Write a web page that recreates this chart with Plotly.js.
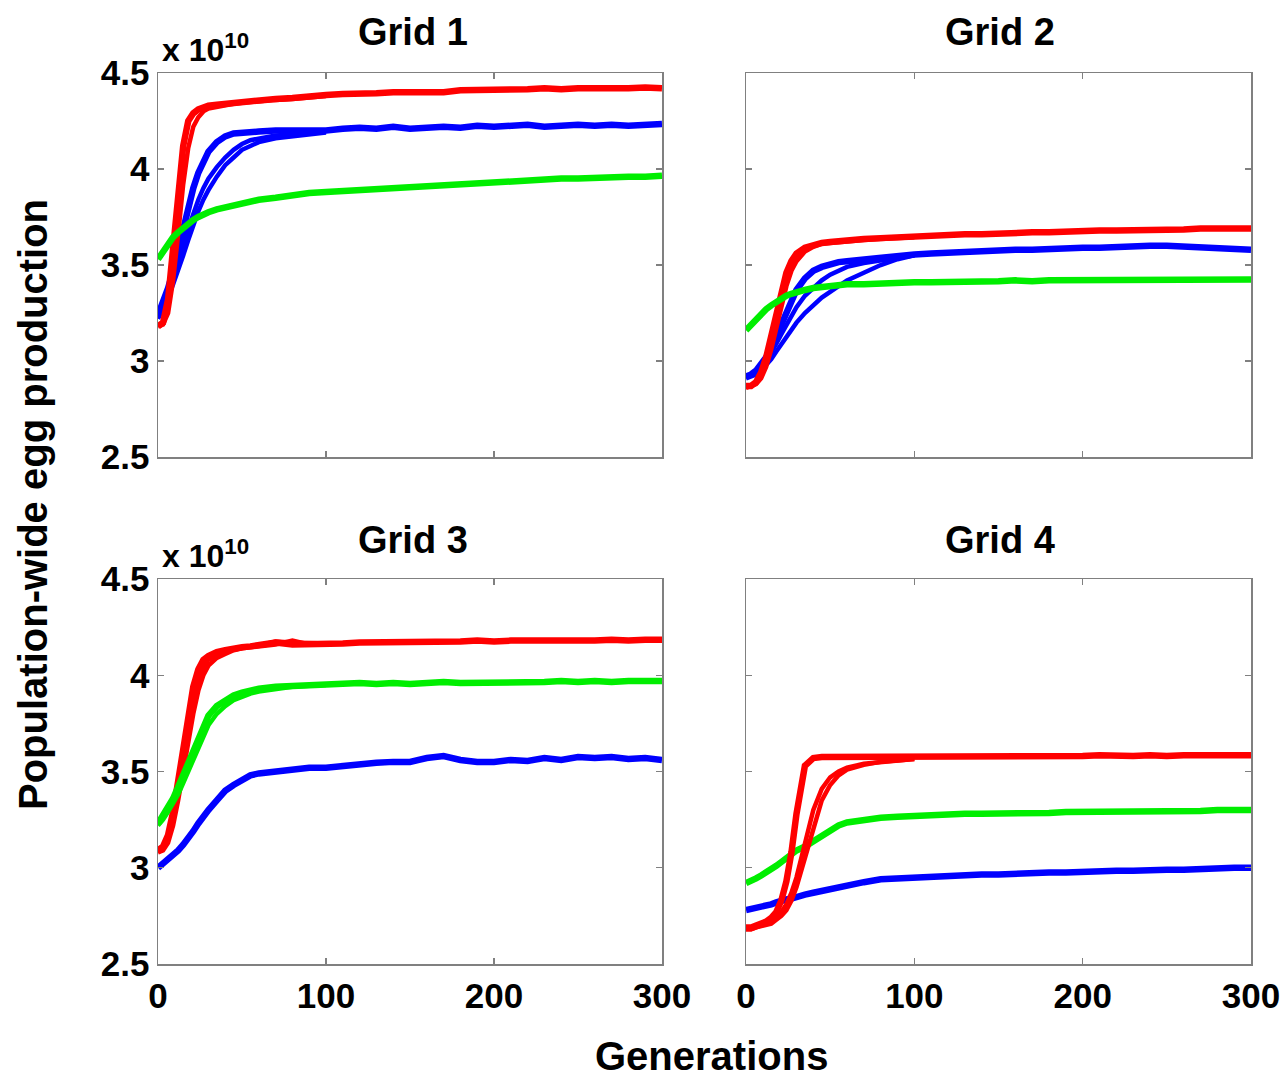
<!DOCTYPE html>
<html>
<head>
<meta charset="utf-8">
<script src="https://cdn.plot.ly/plotly-3.0.1.min.js"></script>
<style>html,body{margin:0;padding:0;background:#fff;}#chart{width:1284px;height:1079px;}</style>
</head>
<body>
<div id="chart"></div>
<script>
// Generations (x) shared by the full-length runs, and by the early segments of the diverging runs
const gens = [0,3,6,9,12,15,18,21,24,27,30,35,40,45,50,55,60,70,80,90,100,110,120,130,140,150,160,170,180,190,200,210,220,230,240,250,260,270,280,290,300];
const gensEarly = [0,3,6,9,12,15,18,21,24,27,30,35,40,45,50,55,60,70,80,90,100];

// Values in units of 1e10
// Grid 1
const g1Red   = [3.18,3.20,3.32,3.58,3.88,4.12,4.25,4.29,4.31,4.32,4.33,4.335,4.34,4.345,4.35,4.355,4.36,4.365,4.37,4.38,4.385,4.39,4.39,4.395,4.40,4.40,4.405,4.40,4.41,4.41,4.415,4.41,4.415,4.42,4.415,4.42,4.42,4.415,4.42,4.425,4.42];
const g1RedB  = [3.18,3.19,3.25,3.42,3.66,3.92,4.11,4.22,4.27,4.30,4.315,4.325,4.33,4.34,4.345,4.35,4.355,4.36,4.365,4.375,4.38];
const g1Blue  = [3.24,3.30,3.38,3.47,3.58,3.70,3.80,3.90,3.98,4.04,4.09,4.14,4.17,4.185,4.19,4.195,4.195,4.20,4.20,4.205,4.20,4.21,4.215,4.21,4.22,4.21,4.215,4.22,4.215,4.225,4.22,4.225,4.23,4.22,4.225,4.23,4.225,4.23,4.225,4.23,4.235];
const g1BlueB = [3.22,3.27,3.33,3.40,3.47,3.55,3.63,3.71,3.78,3.84,3.89,3.96,4.02,4.06,4.10,4.12,4.14,4.16,4.17,4.18,4.19];
const g1BlueC = [3.23,3.28,3.35,3.43,3.51,3.60,3.69,3.77,3.84,3.90,3.95,4.01,4.06,4.10,4.13,4.15,4.16,4.175,4.18,4.19,4.195];
const g1Green = [3.53,3.57,3.61,3.645,3.67,3.695,3.715,3.735,3.75,3.765,3.775,3.79,3.80,3.815,3.825,3.83,3.84,3.85,3.865,3.875,3.88,3.885,3.89,3.90,3.905,3.91,3.915,3.92,3.925,3.93,3.935,3.94,3.94,3.945,3.95,3.95,3.955,3.955,3.96,3.96,3.965];

// Grid 2
const g2Red   = [2.87,2.87,2.89,2.94,3.02,3.13,3.25,3.37,3.46,3.52,3.56,3.59,3.605,3.615,3.62,3.625,3.63,3.635,3.64,3.645,3.65,3.655,3.655,3.66,3.66,3.665,3.665,3.67,3.67,3.675,3.675,3.68,3.68,3.68,3.685,3.685,3.685,3.69,3.69,3.69,3.69];
const g2RedB  = [2.86,2.87,2.88,2.91,2.97,3.06,3.17,3.29,3.39,3.47,3.52,3.57,3.595,3.61,3.615,3.62,3.625,3.63,3.635,3.64,3.645];
const g2Blue  = [2.92,2.93,2.95,2.98,3.02,3.07,3.13,3.19,3.26,3.32,3.37,3.43,3.47,3.49,3.505,3.515,3.52,3.53,3.54,3.55,3.555,3.56,3.565,3.57,3.57,3.575,3.58,3.58,3.585,3.585,3.59,3.59,3.595,3.60,3.60,3.60,3.595,3.59,3.59,3.585,3.58];
const g2BlueB = [2.91,2.92,2.93,2.95,2.98,3.01,3.05,3.09,3.13,3.17,3.20,3.25,3.29,3.33,3.36,3.39,3.42,3.46,3.50,3.53,3.55];
const g2BlueC = [2.92,2.925,2.94,2.965,3.00,3.04,3.09,3.14,3.19,3.24,3.28,3.34,3.38,3.42,3.45,3.47,3.49,3.51,3.525,3.54,3.55];
const g2Green = [3.16,3.19,3.22,3.25,3.27,3.29,3.31,3.325,3.34,3.35,3.36,3.37,3.38,3.385,3.39,3.395,3.40,3.40,3.405,3.405,3.41,3.41,3.41,3.415,3.415,3.415,3.42,3.415,3.42,3.42,3.42,3.425,3.42,3.425,3.42,3.425,3.425,3.42,3.425,3.425,3.425];

// Grid 3
const g3Red    = [3.09,3.11,3.17,3.29,3.45,3.62,3.80,3.94,4.03,4.08,4.10,4.12,4.13,4.14,4.145,4.15,4.155,4.17,4.16,4.16,4.165,4.165,4.17,4.17,4.175,4.17,4.175,4.175,4.175,4.18,4.175,4.18,4.18,4.175,4.18,4.18,4.18,4.185,4.18,4.185,4.185];
const g3RedB   = [3.08,3.09,3.13,3.22,3.35,3.50,3.66,3.80,3.92,4.00,4.05,4.09,4.11,4.13,4.14,4.145,4.15,4.16,4.18,4.16,4.16];
const g3RedC   = [3.08,3.10,3.15,3.25,3.40,3.56,3.73,3.87,3.97,4.04,4.08,4.11,4.125,4.135,4.14,4.15,4.155,4.175,4.17,4.165,4.165];
const g3Green  = [3.23,3.27,3.31,3.36,3.42,3.48,3.55,3.62,3.68,3.74,3.79,3.84,3.87,3.895,3.91,3.92,3.93,3.94,3.945,3.95,3.955,3.955,3.96,3.955,3.96,3.955,3.96,3.965,3.96,3.96,3.965,3.96,3.965,3.965,3.97,3.965,3.97,3.965,3.97,3.97,3.97];
const g3GreenB = [3.22,3.25,3.29,3.33,3.38,3.44,3.50,3.57,3.63,3.69,3.74,3.80,3.84,3.87,3.89,3.905,3.915,3.93,3.94,3.945,3.95];
const g3Blue   = [3.00,3.02,3.04,3.06,3.09,3.12,3.15,3.19,3.23,3.27,3.30,3.35,3.40,3.43,3.46,3.48,3.49,3.50,3.51,3.52,3.52,3.53,3.54,3.545,3.55,3.55,3.57,3.58,3.56,3.55,3.55,3.56,3.555,3.57,3.56,3.575,3.57,3.575,3.565,3.57,3.56];

// Grid 4
const g4Red   = [2.69,2.69,2.70,2.71,2.72,2.74,2.77,2.83,2.93,3.08,3.28,3.53,3.57,3.575,3.575,3.575,3.575,3.575,3.575,3.575,3.58,3.575,3.58,3.58,3.575,3.58,3.58,3.58,3.575,3.58,3.58,3.585,3.58,3.58,3.585,3.58,3.585,3.585,3.58,3.585,3.585];
const g4RedB  = [2.68,2.68,2.69,2.70,2.71,2.72,2.74,2.77,2.81,2.87,2.95,3.12,3.30,3.41,3.47,3.50,3.52,3.54,3.55,3.56,3.565];
const g4RedC  = [2.68,2.68,2.69,2.695,2.70,2.71,2.73,2.75,2.78,2.83,2.90,3.05,3.22,3.35,3.43,3.48,3.51,3.535,3.55,3.555,3.565];
const g4Green = [2.92,2.93,2.945,2.96,2.975,2.99,3.01,3.03,3.05,3.07,3.09,3.11,3.14,3.17,3.20,3.22,3.235,3.25,3.26,3.265,3.27,3.275,3.275,3.28,3.28,3.28,3.285,3.285,3.285,3.29,3.29,3.29,3.29,3.29,3.295,3.29,3.295,3.295,3.30,3.30,3.30];
const g4Blue  = [2.78,2.785,2.79,2.80,2.805,2.81,2.82,2.83,2.835,2.84,2.85,2.86,2.87,2.88,2.89,2.90,2.91,2.925,2.94,2.945,2.95,2.955,2.96,2.96,2.965,2.965,2.97,2.97,2.975,2.975,2.98,2.98,2.985,2.985,2.99,2.99,2.99,2.995,2.995,3.00,3.00];

const xTicks = [0,100,200,300];
const xTickText = ['0','100','200','300'];
const yTicks = [2.5,3,3.5,4,4.5];
const yTickText = ['2.5','3','3.5','4','4.5'];
const panelTitles = ['Grid 1','Grid 2','Grid 3','Grid 4'];
const xTitle = 'Generations';
const yTitle = 'Population-wide egg production';
const expLabel = 'x 10<sup>10</sup>';

const RED = '#ff0000', BLUE = '#0000ff', GREEN = '#00ee00';
function tr(x, y, color, ax, w) {
  return {x: x, y: y, type: 'scatter', mode: 'lines', xaxis: 'x' + ax, yaxis: 'y' + ax,
          line: {color: color, width: w}, hoverinfo: 'skip', showlegend: false};
}
const MW = 6.5, AW = 4.5;
const data = [
  tr(gensEarly, g1BlueB, BLUE, '', AW), tr(gensEarly, g1BlueC, BLUE, '', AW), tr(gens, g1Blue, BLUE, '', MW),
  tr(gensEarly, g1RedB, RED, '', AW), tr(gens, g1Red, RED, '', MW),
  tr(gens, g1Green, GREEN, '', MW),

  tr(gensEarly, g2BlueB, BLUE, '2', AW), tr(gensEarly, g2BlueC, BLUE, '2', AW), tr(gens, g2Blue, BLUE, '2', MW),
  tr(gensEarly, g2RedB, RED, '2', AW), tr(gens, g2Red, RED, '2', MW),
  tr(gens, g2Green, GREEN, '2', MW),

  tr(gens, g3Blue, BLUE, '3', MW),
  tr(gensEarly, g3RedB, RED, '3', AW), tr(gensEarly, g3RedC, RED, '3', AW), tr(gens, g3Red, RED, '3', MW),
  tr(gensEarly, g3GreenB, GREEN, '3', AW), tr(gens, g3Green, GREEN, '3', MW),

  tr(gens, g4Blue, BLUE, '4', MW),
  tr(gens, g4Green, GREEN, '4', MW),
  tr(gensEarly, g4RedB, RED, '4', AW), tr(gensEarly, g4RedC, RED, '4', AW), tr(gens, g4Red, RED, '4', MW)
];

const W = 1284, H = 1079;
const FONT = 'Liberation Sans, Arial, Helvetica, sans-serif';
const px = v => v / W, py = v => 1 - v / H;

function xa(left, right, labels, anchor) {
  return {domain: [px(left), px(right)], anchor: anchor, range: [0, 300], tickvals: xTicks, ticktext: xTickText,
    showticklabels: labels, showline: true, mirror: 'ticks', linecolor: '#808080', linewidth: 1.5,
    ticks: 'inside', ticklen: 6, tickwidth: 1.3, tickcolor: '#808080', showgrid: false, zeroline: false,
    tickfont: {family: FONT, size: 35, color: '#000', weight: 'bold'}, fixedrange: true};
}
function ya(top, bottom, labels, anchor) {
  return {domain: [py(bottom), py(top)], anchor: anchor, range: [2.5, 4.5], tickvals: yTicks, ticktext: yTickText,
    showticklabels: labels, showline: true, mirror: 'ticks', linecolor: '#808080', linewidth: 1.5,
    ticks: 'inside', ticklen: 6, tickwidth: 1.3, tickcolor: '#808080', showgrid: false, zeroline: false,
    tickfont: {family: FONT, size: 35, color: '#000', weight: 'bold'}, fixedrange: true};
}

const titleFont = {family: FONT, size: 38, color: '#000', weight: 'bold'};
const ann = (text, x, y, opts) => Object.assign({text: text, xref: 'paper', yref: 'paper', x: px(x), y: py(y),
  showarrow: false, font: titleFont, xanchor: 'center', yanchor: 'middle'}, opts || {});

const layout = {
  width: W, height: H, margin: {l: 0, r: 0, t: 0, b: 0, pad: 0},
  paper_bgcolor: '#fff', plot_bgcolor: '#fff', showlegend: false,
  xaxis: xa(158, 662, false, 'y'), yaxis: ya(73, 457, true, 'x'),
  xaxis2: xa(746, 1251, false, 'y2'), yaxis2: ya(73, 457, false, 'x2'),
  xaxis3: xa(158, 662, true, 'y3'), yaxis3: ya(579, 964, true, 'x3'),
  xaxis4: xa(746, 1251, true, 'y4'), yaxis4: ya(579, 964, false, 'x4'),
  annotations: [
    ann(panelTitles[0], 413, 32), ann(panelTitles[1], 1000, 32),
    ann(panelTitles[2], 413, 540), ann(panelTitles[3], 1000, 540),
    ann(xTitle, 712, 1056, {font: {family: FONT, size: 40, color: '#000', weight: 'bold'}}),
    ann(yTitle, 33, 505, {textangle: -90, font: {family: FONT, size: 40, color: '#000', weight: 'bold'}}),
    ann(expLabel, 160, 48, {xanchor: 'left', font: {family: FONT, size: 32, color: '#000', weight: 'bold'}}),
    ann(expLabel, 160, 554, {xanchor: 'left', font: {family: FONT, size: 32, color: '#000', weight: 'bold'}})
  ]
};

Plotly.newPlot('chart', data, layout, {staticPlot: true, displayModeBar: false});
</script>
</body>
</html>
